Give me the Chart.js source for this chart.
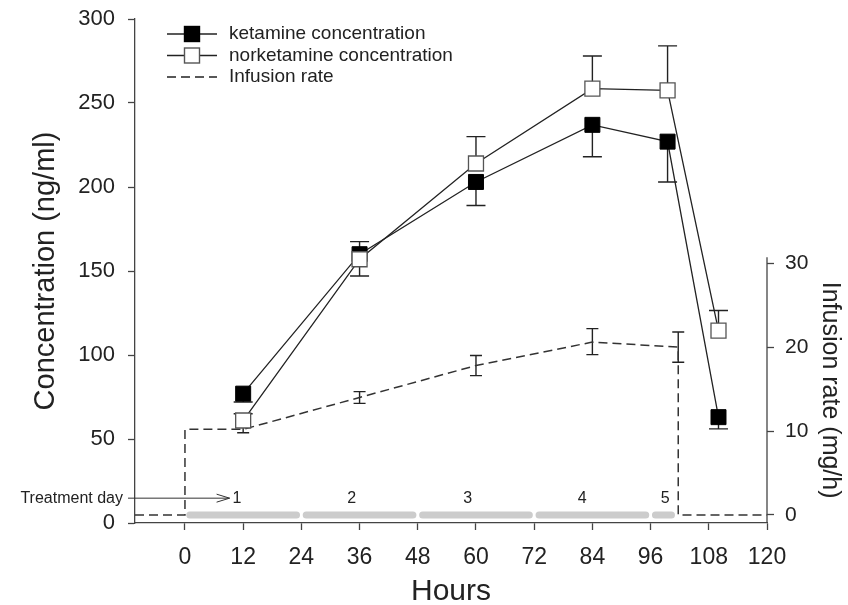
<!DOCTYPE html>
<html>
<head>
<meta charset="utf-8">
<script src="https://cdn.jsdelivr.net/npm/chart.js@4.4.0/dist/chart.umd.min.js"></script>
<style>
	html, body { margin: 0; padding: 0; background: #ffffff; }
	canvas { display: block; }
</style>
</head>
<body>
<canvas id="ketamine_chart" width="848" height="605"></canvas>
<script>
// Values

let sampleHours = [12, 36, 60, 84, 99.5, 110];
let ketamine = [77, 160, 203, 237, 227, 63];
let ketamineErrLow = [72, 147, 189, 218, 203, 56];
let norketamine = [61, 157, 214, 258.5, 257.5, 114.5];
let norketamineErrHigh = [65, 167.5, 230, 278, 284, 126.5];

let xMin = -10.3;
let infusionHours = [xMin, 0, 0, 12, 36, 60, 84, 101.7, 101.7, 120];
let infusionRate = [0, 0, 10.2, 10.2, 14, 17.8, 20.6, 20, 0, 0];
let infusionErrLow = [null, null, null, 9.8, 13.3, 16.6, 19.1, 18.2, null, null];
let infusionErrHigh = [null, null, null, 10.6, 14.7, 19.0, 22.2, 21.8, null, null];

let dayStart = [0, 24, 48, 72, 96];
let dayEnd = [24, 48, 72, 96, 101.3];
let dayNumbers = ['1', '2', '3', '4', '5'];
let dayLabelHours = [10.7, 34.4, 58.3, 81.9, 99];

let xTicks = [0, 12, 24, 36, 48, 60, 72, 84, 96, 108, 120];
let rightTicks = [0, 10, 20, 30];
let legendLabels = ['ketamine concentration', 'norketamine concentration', 'Infusion rate'];

let fontFamily = "'Liberation Sans', Arial, sans-serif";
Chart.defaults.font.family = fontFamily;
Chart.defaults.color = '#222222';

let toPoints = function(xs, ys) {
	let pts = [];
	for (let i = 0; i < xs.length; i++) {
		pts.push({ x: xs[i], y: ys[i] });
	}
	return pts;
}

// grey treatment-day bars, one segment per day, broken by a null point
let dayBars = [];
for (let i = 0; i < dayStart.length; i++) {
	dayBars.push({ x: dayStart[i] + 1, y: 0 });
	dayBars.push({ x: dayEnd[i] - 1, y: 0 });
	dayBars.push({ x: dayEnd[i], y: null });
}

// error bars (drawn under the markers)

let drawErrorBars = function(chart, index, lows, highs, capHalf) {
	let meta = chart.getDatasetMeta(index);
	let yScale = chart.scales[meta.yAxisID];
	let ctx = chart.ctx;
	ctx.save();
	ctx.strokeStyle = '#222222';
	ctx.lineWidth = 1.4;
	ctx.setLineDash([]);
	meta.data.forEach(function(pt, i) {
		let hasLow = lows && lows[i] != null;
		let hasHigh = highs && highs[i] != null;
		if (!hasLow && !hasHigh) return;
		let top = hasHigh ? yScale.getPixelForValue(highs[i]) : pt.y;
		let bottom = hasLow ? yScale.getPixelForValue(lows[i]) : pt.y;
		ctx.beginPath();
		ctx.moveTo(pt.x, top);
		ctx.lineTo(pt.x, bottom);
		if (hasHigh) {
			ctx.moveTo(pt.x - capHalf, top);
			ctx.lineTo(pt.x + capHalf, top);
		}
		if (hasLow) {
			ctx.moveTo(pt.x - capHalf, bottom);
			ctx.lineTo(pt.x + capHalf, bottom);
		}
		ctx.stroke();
	});
	ctx.restore();
}

let errorBarPlugin = {
	id: 'errorBars',
	beforeDatasetsDraw: function(chart) {
		drawErrorBars(chart, 0, ketamineErrLow, null, 9.5);
		drawErrorBars(chart, 1, null, norketamineErrHigh, 9.5);
		drawErrorBars(chart, 2, infusionErrLow, infusionErrHigh, 6);
	}
};

// legend, treatment day labels, right axis line and title

let decorPlugin = {
	id: 'decor',
	afterDatasetsDraw: function(chart) {
		let ctx = chart.ctx;
		let area = chart.chartArea;
		let x = chart.scales.x;
		let y2 = chart.scales.y2;
		ctx.save();

		// legend
		ctx.font = '19px ' + fontFamily;
		ctx.textAlign = 'left';
		ctx.textBaseline = 'middle';
		for (let i = 0; i < legendLabels.length; i++) {
			let ly = area.top + 15 + i * 21.5;
			let lx0 = area.left + 32;
			let lx1 = area.left + 82;
			ctx.strokeStyle = '#222222';
			ctx.lineWidth = 1.4;
			ctx.setLineDash(i == 2 ? [9, 5] : []);
			ctx.beginPath();
			ctx.moveTo(lx0, ly);
			ctx.lineTo(lx1, ly);
			ctx.stroke();
			ctx.setLineDash([]);
			if (i < 2) {
				let cx = (lx0 + lx1) / 2;
				ctx.fillStyle = i == 0 ? '#000000' : '#ffffff';
				ctx.fillRect(cx - 7.5, ly - 7.5, 15, 15);
				ctx.strokeStyle = i == 0 ? '#000000' : '#555555';
				ctx.strokeRect(cx - 7.5, ly - 7.5, 15, 15);
			}
			ctx.fillStyle = '#222222';
			ctx.fillText(legendLabels[i], area.left + 94, ly);
		}

		// treatment day arrow and numbers
		let ty = y2.getPixelForValue(2);
		ctx.font = '16px ' + fontFamily;
		ctx.textAlign = 'right';
		ctx.fillText('Treatment day', area.left - 12, ty);
		let arrowEnd = x.getPixelForValue(9.2);
		ctx.strokeStyle = '#333333';
		ctx.lineWidth = 1;
		ctx.beginPath();
		ctx.moveTo(area.left - 7, ty);
		ctx.lineTo(arrowEnd, ty);
		ctx.moveTo(arrowEnd - 13, ty - 4);
		ctx.lineTo(arrowEnd, ty);
		ctx.lineTo(arrowEnd - 13, ty + 4);
		ctx.stroke();
		ctx.textAlign = 'center';
		for (let i = 0; i < dayNumbers.length; i++) {
			ctx.fillText(dayNumbers[i], x.getPixelForValue(dayLabelHours[i]), ty);
		}

		// right axis line, only as far up as its ticks go
		let axisTop = y2.getPixelForValue(30.7);
		ctx.strokeStyle = '#444444';
		ctx.lineWidth = 1.3;
		ctx.beginPath();
		ctx.moveTo(area.right, axisTop);
		ctx.lineTo(area.right, area.bottom);
		ctx.stroke();

		// right axis title, centred on that line
		ctx.translate(830, (axisTop + area.bottom) / 2);
		ctx.rotate(Math.PI / 2);
		ctx.font = '25px ' + fontFamily;
		ctx.fillStyle = '#222222';
		ctx.textAlign = 'center';
		ctx.textBaseline = 'middle';
		ctx.fillText('Infusion rate (mg/h)', 0, 0);
		ctx.restore();
	}
};

// fixed axis boxes so the plot area lands where the figure has it
let fixWidth = function(w) {
	return function(axis) {
		axis.width = w;
		axis.paddingTop = 0;
		axis.paddingBottom = 0;
	};
}

// Chart

let ctx_ketamine = document.getElementById('ketamine_chart').getContext('2d');

let ketamineChart = new Chart(ctx_ketamine, {
	type: 'line',
	data: {
		datasets: [{
			label: legendLabels[0],
			data: toPoints(sampleHours, ketamine),
			yAxisID: 'y',
			borderColor: '#222222',
			borderWidth: 1.3,
			backgroundColor: '#000000',
			pointStyle: 'rect',
			pointRadius: 10.6,
			pointBorderColor: '#000000',
			pointBorderWidth: 1,
			order: 2
		},
		{
			label: legendLabels[1],
			data: toPoints(sampleHours, norketamine),
			yAxisID: 'y',
			borderColor: '#222222',
			borderWidth: 1.3,
			backgroundColor: '#ffffff',
			pointStyle: 'rect',
			pointRadius: 10.6,
			pointBorderColor: '#555555',
			pointBorderWidth: 1.3,
			order: 1
		},
		{
			label: legendLabels[2],
			data: toPoints(infusionHours, infusionRate),
			yAxisID: 'y2',
			borderColor: '#333333',
			borderWidth: 1.5,
			borderDash: [9, 5],
			pointRadius: 0,
			order: 3
		},
		{
			label: 'Treatment days',
			data: dayBars,
			yAxisID: 'y2',
			borderColor: '#cccccc',
			borderWidth: 7,
			borderCapStyle: 'round',
			spanGaps: false,
			pointRadius: 0,
			order: 4
		}]
	},
	options: {
		responsive: false,
		animation: false,
		devicePixelRatio: 1,
		layout: { padding: { top: 19, left: 0, right: 0, bottom: 0 } },
		plugins: {
			legend: { display: false },
			tooltip: { enabled: false }
		},
		scales: {
			x: {
				type: 'linear',
				min: xMin,
				max: 120,
				afterBuildTicks: function(axis) {
					axis.ticks = xTicks.map(function(v) { return { value: v }; });
				},
				afterFit: function(axis) { axis.height = 82; },
				grid: { drawOnChartArea: false, tickLength: 7, tickColor: '#444444', tickWidth: 1.3 },
				border: { color: '#444444', width: 1.3 },
				ticks: { padding: 14, font: { size: 23 }, color: '#222222' },
				title: { display: true, text: 'Hours', font: { size: 30, lineHeight: 1 }, padding: { top: 0, bottom: -2 }, color: '#222222' }
			},
			y: {
				position: 'left',
				min: 0,
				max: 300,
				afterFit: fixWidth(135),
				grid: { drawOnChartArea: false, tickLength: 7, tickColor: '#444444', tickWidth: 1.3 },
				border: { color: '#444444', width: 1.3 },
				ticks: { stepSize: 50, padding: 13, font: { size: 22 }, color: '#222222' },
				title: { display: true, text: 'Concentration (ng/ml)', font: { size: 29, lineHeight: 1 }, padding: { top: 31, bottom: 0 }, color: '#222222' }
			},
			y2: {
				position: 'right',
				min: -0.96,
				max: 59.1,
				afterBuildTicks: function(axis) {
					axis.ticks = rightTicks.map(function(v) { return { value: v }; });
				},
				afterFit: fixWidth(81),
				grid: { drawOnChartArea: false, tickLength: 7, tickColor: '#444444', tickWidth: 1.3 },
				border: { display: false },
				ticks: { padding: 11, font: { size: 21 }, color: '#222222' }
			}
		}
	},
	plugins: [errorBarPlugin, decorPlugin]
});
</script>
</body>
</html>
